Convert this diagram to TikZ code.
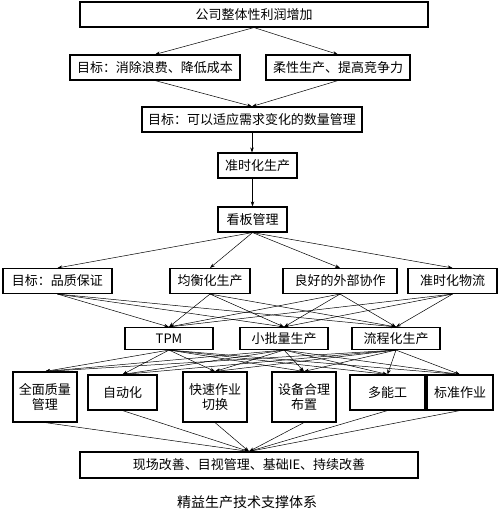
\documentclass[tikz,border=0pt]{standalone}
\usepackage{fontspec}
\newfontfamily\cjk{Noto Sans CJK SC}
\usetikzlibrary{arrows.meta, positioning}

\begin{document}
\begin{tikzpicture}[x=1pt, y=-1pt,
    box/.style = {rectangle, draw=black, line width=1.1pt, inner sep=0pt, align=center, font=\cjk\fontsize{13}{14.5}\selectfont, minimum height=25pt},
    tallbox/.style = {box, minimum height=50pt},
    shortbox/.style = {box, minimum height=35pt},
    arrow/.style = {draw=black, -{Stealth[length=5pt, width=3.5pt]}, line width=0.5pt}
]
\useasboundingbox (0,0) rectangle (500,512);

\node (profit) [box, minimum width=348pt] at (254,14.5) {公司整体性利润增加};
\node (cost) [box, minimum width=170pt] at (155,67.5) {目标：消除浪费、降低成本};
\node (flex) [box, minimum width=144pt] at (338,67.5) {柔性生产、提高竞争力};
\node (qty) [box, minimum width=220pt] at (252,119.5) {目标：可以适应需求变化的数量管理};
\node (jit) [box, minimum width=79pt] at (257.5,165.5) {准时化生产};
\node (kanban) [box, minimum width=69pt] at (252.5,219.5) {看板管理};

% goals and means
\node (quality) [box, minimum width=109pt] at (57.5,281) {目标：品质保证};
\node (level) [box, minimum width=80pt] at (210,281) {均衡化生产};
\node (coop) [box, minimum width=114pt] at (340,281) {良好的外部协作};
\node (logis) [box, minimum width=89pt] at (452.5,281) {准时化物流};

\node (tpm) [box, minimum width=88pt, minimum height=22pt] at (169,338.5) {TPM};
\node (small) [box, minimum width=88pt, minimum height=22pt] at (284,338.5) {小批量生产};
\node (flow) [box, minimum width=88pt, minimum height=22pt] at (396,338.5) {流程化生产};

% tools
\node (tqm) [tallbox, minimum width=64pt] at (45,397) {全面质量\\管理};
\node (auto) [shortbox, minimum width=69pt] at (122.5,392.5) {自动化};
\node (smed) [tallbox, minimum width=64pt] at (215,397) {快速作业\\切换};
\node (layout) [tallbox, minimum width=64pt] at (304,397) {设备合理\\布置};
\node (multi) [shortbox, minimum width=75pt] at (387.5,392.5) {多能工};
\node (std) [shortbox, minimum width=66pt] at (460,392.5) {标准作业};

\node (base) [box, minimum width=338pt, minimum height=26pt] at (249,465) {现场改善、目视管理、基础IE、持续改善};
\node (title) [font=\cjk\fontsize{14}{16}\selectfont] at (247,502) {精益生产技术支撑体系};

\draw [arrow] (profit.south) -- (cost.north);
\draw [arrow] (profit.south) -- (flex.north);
\draw [arrow] (cost.south) -- (qty.north);
\draw [arrow] (flex.south) -- (qty.north);
\draw [arrow] (qty.south) -- (qty.south |- jit.north);
\draw [arrow] (jit.south -| kanban.north) -- (kanban.north);
\foreach \t in {quality, level, coop, logis}
    \draw [arrow] (kanban.south) -- (\t.north);
\foreach \s in {quality, level, coop, logis}
    \foreach \t in {tpm, small, flow}
        \draw [arrow] (\s.south) -- (\t.north);
\foreach \s in {tpm, small, flow}
    \foreach \t in {tqm, auto, smed, layout, multi, std}
        \draw [arrow] (\s.south) -- (\t.north);
\foreach \s in {tqm, auto, smed, layout, multi, std}
    \draw [arrow] (\s.south) -- (base.north);

\end{tikzpicture}
\end{document}
